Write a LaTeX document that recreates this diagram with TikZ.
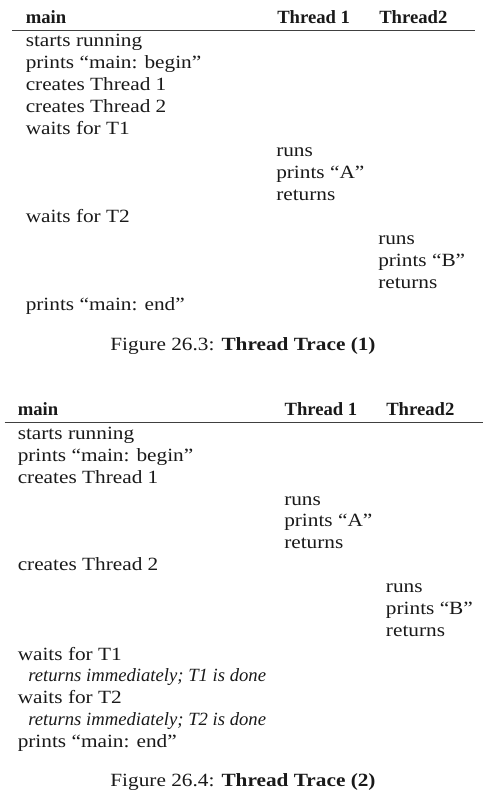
\documentclass[tikz,border=0pt]{standalone}
\usepackage{fontspec}
\setmainfont{Liberation Serif}[FakeStretch=1.14]
\newfontfamily\plainfont{Liberation Serif}
\tikzset{
  cell/.style={anchor=base west, inner sep=0pt, font=\fontsize{14}{16}\selectfont},
  head/.style={cell, font=\plainfont\fontsize{14}{16}\selectfont\bfseries},
  note/.style={cell, font=\plainfont\fontsize{14}{16}\selectfont\itshape},
  caption/.style={anchor=base, inner sep=0pt, font=\fontsize{14}{16}\selectfont},
  rulebar/.style={line width=0.8pt, black!75}
}
\begin{document}
\begin{tikzpicture}[x=0.75pt, y=-0.75pt, text=black!90]
  \useasboundingbox (0,0) rectangle (498,792);
  % first trace
  \node[head] (hmainA) at (25.5,24) {main};
  \node[head] (htoneA) at (277,24) {Thread 1};
  \node[head] (httwoA) at (379,24) {Thread2};
  \coordinate (rlA) at (12,30.7);
  \coordinate (rrA) at (475,30.7);
  \draw[rulebar] (rlA) -- (rrA);
  \foreach \nm/\cx/\k/\txt in {
      aone/25.5/0/{starts running},
      atwo/25.5/1/{prints “main: begin”},
      athree/25.5/2/{creates Thread 1},
      afour/25.5/3/{creates Thread 2},
      afive/25.5/4/{waits for T1},
      asix/276/5/{runs},
      aseven/276/6/{prints “A”},
      aeight/276/7/{returns},
      anine/25.5/8/{waits for T2},
      aten/378/9/{runs},
      aeleven/378/10/{prints “B”},
      atwelve/378/11/{returns},
      athirteen/25.5/12/{prints “main: end”}}
    \node[cell] (\nm) at (\cx,46.7+22*\k) {\txt};
  \node[caption] (capA) at (243,350) {Figure 26.3: \textbf{Thread Trace (1)}};
  % second trace
  \node[head] (hmainB) at (17.5,415.7) {main};
  \node[head] (htoneB) at (284.3,415.7) {Thread 1};
  \node[head] (httwoB) at (386,415.7) {Thread2};
  \coordinate (rlB) at (4.5,422.7);
  \coordinate (rrB) at (482.5,422.7);
  \draw[rulebar] (rlB) -- (rrB);
  \foreach \nm/\cx/\k/\txt in {
      bone/17.5/0/{starts running},
      btwo/17.5/1/{prints “main: begin”},
      bthree/17.5/2/{creates Thread 1},
      bfour/284/3/{runs},
      bfive/284/4/{prints “A”},
      bsix/284/5/{returns},
      bseven/17.5/6/{creates Thread 2},
      beight/385.7/7/{runs},
      bnine/385.7/8/{prints “B”},
      bten/385.7/9/{returns}}
    \node[cell] (\nm) at (\cx,439.3+21.9*\k) {\txt};
  \node[cell] (beleven) at (17.5,660) {waits for T1};
  \node[note] (btwelve) at (28,681.8) {returns immediately; T1 is done};
  \node[cell] (bthirteen) at (17.5,703.7) {waits for T2};
  \node[note] (bfourteen) at (28,725.6) {returns immediately; T2 is done};
  \node[cell] (bfifteen) at (17.5,747.5) {prints “main: end”};
  \node[caption] (capB) at (243,786) {Figure 26.4: \textbf{Thread Trace (2)}};
\end{tikzpicture}
\end{document}
